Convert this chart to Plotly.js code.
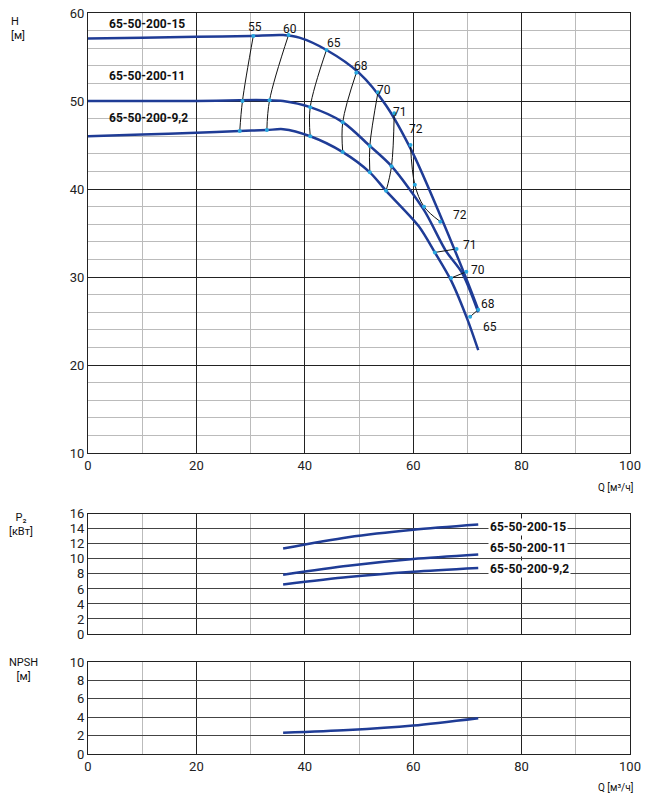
<!DOCTYPE html>
<html>
<head>
<meta charset="utf-8">
<script src="https://cdn.plot.ly/plotly-3.0.1.min.js"></script>
<style>body{margin:0;background:#fff}</style>
</head>
<body>
<div id="chart" style="width:654px;height:800px"></div>
<script>
// H curves
const qH15 = [0, 10, 20, 30, 36, 39, 44, 50, 55, 60, 65, 70, 72];
const h15 = [57.1, 57.2, 57.3, 57.4, 57.5, 57.2, 55.8, 53.2, 49.5, 44.0, 37.0, 29.5, 26.3];
const qH11 = [0, 10, 20, 28, 33, 36, 41, 47, 52, 56, 62, 66, 69, 72];
const h11 = [50.0, 50.0, 50.0, 50.1, 50.1, 50.0, 49.3, 47.6, 44.9, 42.6, 37.6, 33.0, 30.5, 26.0];
const qH92 = [0, 10, 20, 28, 33, 36, 41, 47, 52, 55, 61, 64, 67, 70, 72];
const h92 = [46.0, 46.2, 46.4, 46.6, 46.7, 46.8, 46.0, 44.2, 41.9, 39.8, 35.8, 32.8, 29.6, 25.2, 21.7];

// efficiency iso-lines [name, q[], h[]]
const effLines = [
  ["55", [28, 28.5, 30.5], [46.6, 50.0, 57.4]],
  ["60", [33, 33.5, 37], [46.7, 50.1, 57.5]],
  ["65", [41, 41, 44], [46.0, 49.3, 55.8]],
  ["68", [47, 47, 49.5], [44.2, 47.6, 53.2]],
  ["70", [52, 52, 53.5], [41.9, 44.9, 51.0]],
  ["71", [55, 56, 56.5], [39.8, 42.6, 48.6]],
  ["72", [59.5, 60.3, 62, 65], [45.0, 40.5, 38.0, 36.3]],
  ["71r", [64, 68], [32.8, 33.2]],
  ["70r", [67, 69.8], [29.9, 30.6]],
  ["68r", [70.5, 72], [25.5, 26.3]]
];

// P2 curves
const qP = [36, 48, 60, 72];
const p15 = [11.4, 12.9, 13.9, 14.6];
const p11 = [7.9, 9.1, 10.0, 10.6];
const p92 = [6.6, 7.6, 8.3, 8.8];

// NPSH
const npsh = [2.3, 2.6, 3.1, 3.9];

const blue = "#1f3c96";
const dot = "#29a8e0";
const traces = [];

function curve(x, y, xa, ya) {
  traces.push({x, y, xaxis: xa, yaxis: ya, mode: "lines", line: {color: blue, width: 2.5, shape: "spline", smoothing: 0.8}, hoverinfo: "skip"});
}
curve(qH15, h15, "x", "y");
curve(qH11, h11, "x", "y");
curve(qH92, h92, "x", "y");
effLines.forEach(([name, q, h]) => {
  traces.push({x: q, y: h, xaxis: "x", yaxis: "y", mode: "lines", line: {color: "#111", width: 1, shape: "spline"}, hoverinfo: "skip"});
  traces.push({x: q, y: h, xaxis: "x", yaxis: "y", mode: "markers", marker: {color: dot, size: 4}, hoverinfo: "skip"});
});
curve(qP, p15, "x2", "y2");
curve(qP, p11, "x2", "y2");
curve(qP, p92, "x2", "y2");
curve(qP, npsh, "x3", "y3");

const grid = {showgrid: true, gridcolor: "#222", gridwidth: 1, zeroline: false,
  showline: true, linecolor: "#222", mirror: true, ticks: "", tickfont: {size: 13, color: "#222"},
  minor: {showgrid: true, gridcolor: "#bbb", gridwidth: 1}};
const xBase = Object.assign({}, grid, {range: [0, 100], dtick: 20, minor: {dtick: 10, showgrid: true, gridcolor: "#bbb"}});

const ann = [];
function txt(x, y, t, xr, yr, opt) {
  ann.push(Object.assign({x, y, xref: xr, yref: yr, text: t, showarrow: false, font: {size: 12, color: "#111"}}, opt || {}));
}
txt(3.5, 58.75, "<b>65-50-200-15</b>", "x", "y", {xanchor: "left"});
txt(3.5, 52.8, "<b>65-50-200-11</b>", "x", "y", {xanchor: "left"});
txt(3.5, 48.1, "<b>65-50-200-9,2</b>", "x", "y", {xanchor: "left"});
[["55", 30.8, 58.4], ["60", 37.2, 58.2], ["65", 45.3, 56.6], ["68", 50.3, 54.0], ["70", 54.6, 51.2],
 ["71", 57.5, 48.8], ["72", 60.5, 46.8], ["72", 68.6, 37.0], ["71", 70.5, 33.6], ["70", 72, 30.8],
 ["68", 73.8, 27.0], ["65", 74.2, 24.3]].forEach(([t, x, y]) => txt(x, y, t, "x", "y"));
txt(73.8, 14.2, "<b>65-50-200-15</b>", "x2", "y2", {bgcolor: "#fff", xanchor: "left"});
txt(73.8, 11.5, "<b>65-50-200-11</b>", "x2", "y2", {bgcolor: "#fff", xanchor: "left"});
txt(73.8, 8.7, "<b>65-50-200-9,2</b>", "x2", "y2", {bgcolor: "#fff", xanchor: "left"});

const layout = {
  width: 654, height: 800, paper_bgcolor: "#fff", plot_bgcolor: "#fff", showlegend: false,
  margin: {l: 88, r: 24, t: 13, b: 46},
  font: {family: "Roboto, 'Noto Sans', sans-serif", color: "#111"},
  xaxis: Object.assign({}, xBase, {domain: [0, 1], anchor: "y"}),
  yaxis: Object.assign({}, grid, {domain: [0.406, 1], range: [10, 60], dtick: 10, minor: {dtick: 2, showgrid: true, gridcolor: "#bbb"}, anchor: "x"}),
  xaxis2: Object.assign({}, xBase, {anchor: "y2", showticklabels: false}),
  yaxis2: Object.assign({}, grid, {domain: [0.162, 0.324], range: [0, 16], dtick: 2, gridcolor: "#444", anchor: "x2", minor: {showgrid: false}}),
  xaxis3: Object.assign({}, xBase, {anchor: "y3"}),
  yaxis3: Object.assign({}, grid, {domain: [0, 0.124], range: [0, 10], dtick: 2, gridcolor: "#444", anchor: "x3", minor: {showgrid: false}}),
  annotations: ann.concat([
    {x: -0.145, y: 1.0, xref: "paper", yref: "paper", text: "H<br>[м]", showarrow: false, xanchor: "left", yanchor: "top", font: {size: 11}, align: "left"},
    {x: -0.15, y: 0.33, xref: "paper", yref: "paper", text: "P₂<br>[кВт]", showarrow: false, xanchor: "left", yanchor: "top", font: {size: 11}, align: "center"},
    {x: -0.15, y: 0.135, xref: "paper", yref: "paper", text: "NPSH<br>[м]", showarrow: false, xanchor: "left", yanchor: "top", font: {size: 11}, align: "center"},
    {x: 1.01, y: 0.36, xref: "paper", yref: "paper", text: "Q [м³/ч]", showarrow: false, xanchor: "right", yanchor: "middle", font: {size: 10}},
    {x: 1.01, y: -0.035, xref: "paper", yref: "paper", text: "Q [м³/ч]", showarrow: false, xanchor: "right", yanchor: "top", font: {size: 10}}
  ])
};

Plotly.newPlot("chart", traces, layout, {staticPlot: true});
</script>
</body>
</html>
